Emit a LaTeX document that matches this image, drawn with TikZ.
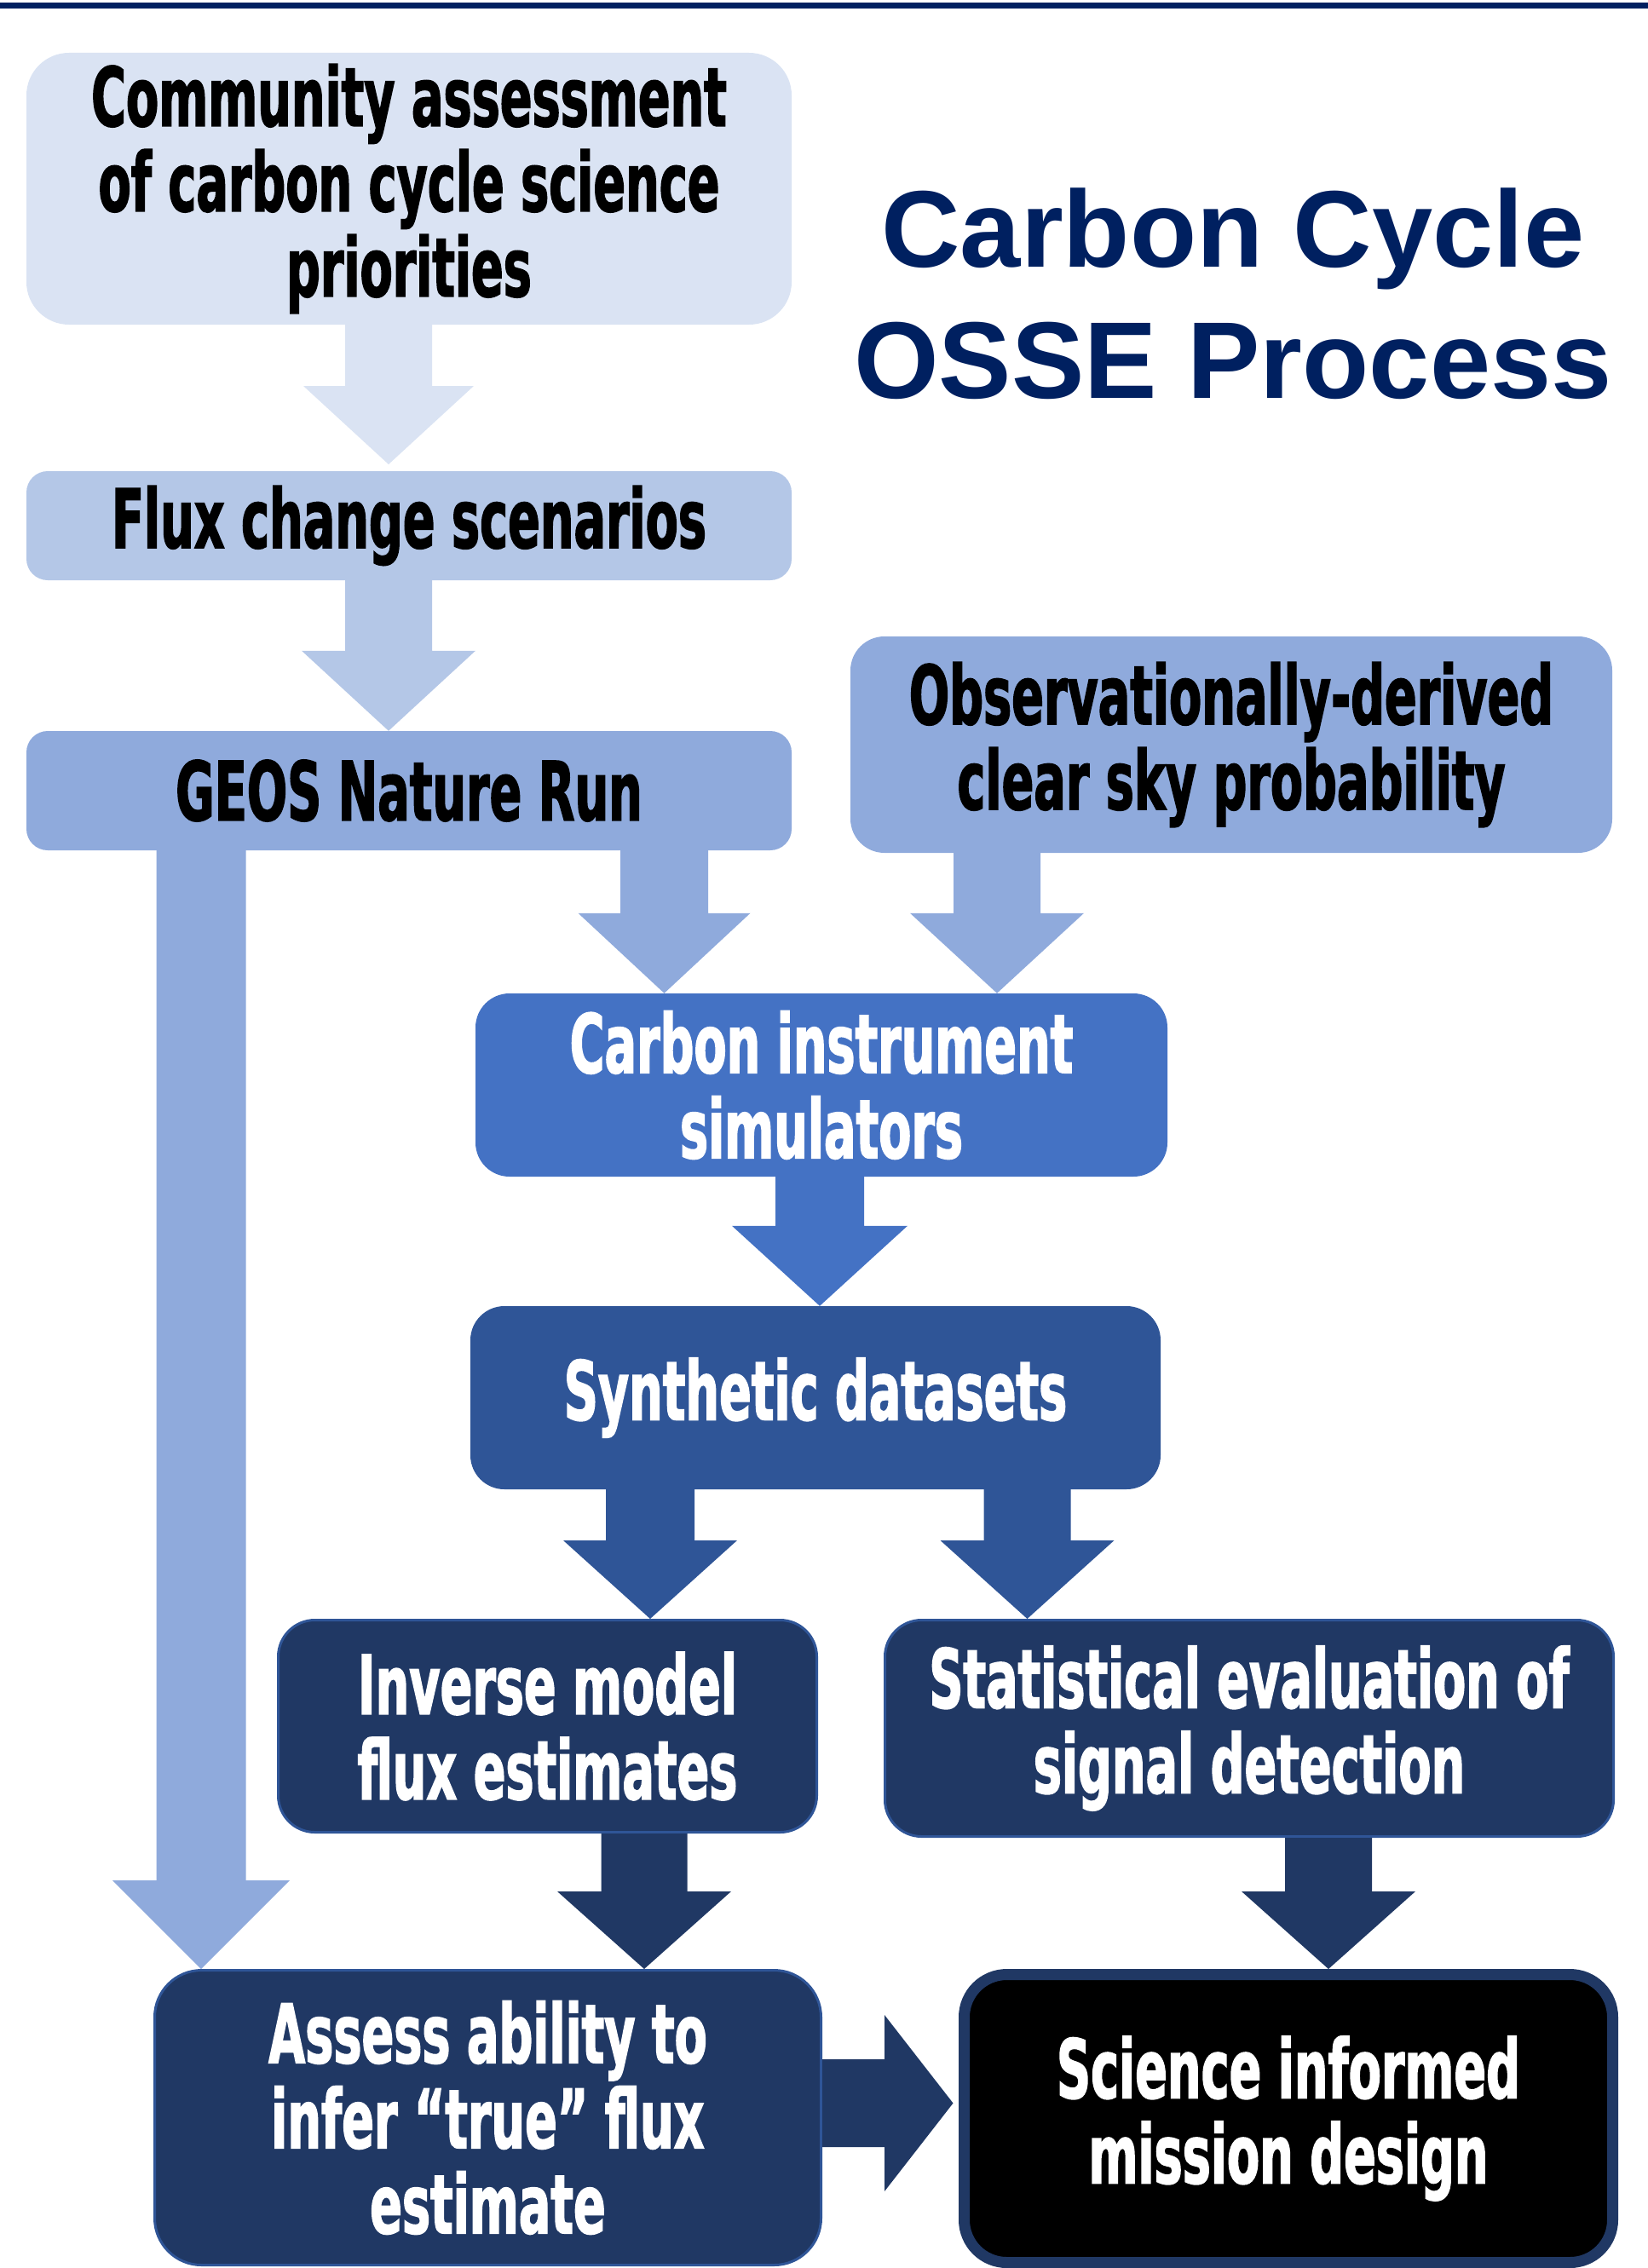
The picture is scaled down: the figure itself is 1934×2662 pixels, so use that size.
\documentclass[tikz,border=0pt]{standalone}
\usepackage{fontspec}
\usetikzlibrary{calc}
\newfontfamily\boxfont{DejaVu Sans}[FakeStretch=0.58,FakeBold=1.5]
\newfontfamily\titlefont{Liberation Sans}
\definecolor{navy}{HTML}{002060}
\definecolor{cA}{HTML}{DAE3F3}
\definecolor{cB}{HTML}{B4C7E7}
\definecolor{cC}{HTML}{8FAADC}
\definecolor{cD}{HTML}{4472C4}
\definecolor{cE}{HTML}{2F5597}
\definecolor{cF}{HTML}{203864}
% #1 start point, #2 tip point, #3 shaft half width, #4 head half width, #5 head length, #6 colour
\newcommand\blkdown[6]{%
  \fill[#6] let \p1=(#1), \p2=(#2) in
  (\x2-#3pt,\y1) -- (\x2+#3pt,\y1) -- (\x2+#3pt,\y2+#5pt) -- (\x2+#4pt,\y2+#5pt)
  -- (\x2,\y2) -- (\x2-#4pt,\y2+#5pt) -- (\x2-#3pt,\y2+#5pt) -- cycle;}
\tikzset{
  box/.style={rectangle, rounded corners=#1, inner sep=0pt, align=center,
    font={\boxfont\bfseries\fontsize{96}{100}\selectfont}},
  box/.default=40pt,
  darkbox/.style={box=#1, fill=cF, draw=cE, line width=3pt, text=white},
  darkbox/.default=55pt
}
\begin{document}
\begin{tikzpicture}[x=1pt,y=-1pt]
\useasboundingbox (0,0) rectangle (1934,2662);
\fill[navy] (0,3) rectangle (1934,10);

\node[font={\titlefont\bfseries\fontsize{128}{154}\selectfont}, text=navy, align=center, inner sep=0pt] (title) at (1447,345) {Carbon Cycle\\OSSE Process};

\node[box=50pt, fill=cA, minimum width=898pt, minimum height=319pt] (b1) at (480,221.5)
  {Community assessment\\of carbon cycle science\\priorities};
\node[box=25pt, fill=cB, minimum width=898pt, minimum height=128pt] (b2) at (480,617)
  {Flux change scenarios};
\node[box=25pt, fill=cC, minimum width=898pt, minimum height=140pt] (b3) at (480,928)
  {GEOS Nature Run};
\node[box=40pt, fill=cC, minimum width=894pt, minimum height=254pt] (b4) at (1445,874)
  {Observationally-derived\\clear sky probability};
\node[box=40pt, fill=cD, text=white, minimum width=812pt, minimum height=215pt] (b5) at (964,1273.5)
  {Carbon instrument\\simulators};
\node[box=40pt, fill=cE, text=white, minimum width=810pt, minimum height=215pt] (b6) at (957,1640.5)
  {Synthetic datasets};
\node[darkbox=43pt, minimum width=632pt, minimum height=249pt] (b7) at (642.5,2026)
  {Inverse model\\flux estimates};
\node[darkbox=43pt, minimum width=855pt, minimum height=254pt] (b8) at (1466,2028.5)
  {Statistical evaluation of\\signal detection};
\node[darkbox=55pt, minimum width=782pt, minimum height=346pt] (b9) at (572.5,2485.5)
  {Assess ability to\\infer “true” flux\\estimate};
\node[box=50pt, fill=black, draw=cF, line width=13pt, text=white, minimum width=761pt, minimum height=338pt] (b10) at (1512,2486.5)
  {Science informed\\mission design};

\coordinate (xa) at (456,0);
\coordinate (xl) at (236,0);
\coordinate (xg) at (779.5,0);
\coordinate (xo) at (1170,0);
\coordinate (xc) at (962,0);
\coordinate (xs1) at (763,0);
\coordinate (xs2) at (1205.5,0);
\coordinate (xi) at (756,0);
\coordinate (xt) at (1559,0);
\coordinate (ya) at (0,545);

\blkdown{b1.south -| xa}{ya -| xa}{51}{100}{92}{cA}
\blkdown{b2.south -| xa}{b3.north -| xa}{51}{102}{94}{cB}
\blkdown{b3.south -| xl}{b9.north -| xl}{52.5}{104}{104}{cC}
\blkdown{b3.south -| xg}{b5.north -| xg}{51.5}{101}{94}{cC}
\blkdown{b4.south -| xo}{b5.north -| xo}{51}{102}{94}{cC}
\blkdown{b5.south -| xc}{b6.north -| xc}{52}{103}{94}{cD}
\blkdown{b6.south -| xs1}{b7.north -| xs1}{52}{102}{92}{cE}
\blkdown{b6.south -| xs2}{b8.north -| xs2}{51}{102}{92}{cE}
\blkdown{b7.south -| xi}{b9.north -| xi}{50.5}{102}{91}{cF}
\blkdown{b8.south -| xt}{b10.north -| xt}{51}{102}{91}{cF}

\coordinate (yh) at (0,2468.5);
\fill[cF] let \p1=(b9.east |- yh), \p2=(b10.west |- yh) in
  (\x1,\y1+51.5pt) -- (\x2-87pt,\y1+51.5pt) -- (\x2-87pt,\y1+103.5pt) -- (\x2-6.5pt,\y1)
  -- (\x2-87pt,\y1-103.5pt) -- (\x2-87pt,\y1-51.5pt) -- (\x1,\y1-51.5pt) -- cycle;
\end{tikzpicture}
\end{document}
